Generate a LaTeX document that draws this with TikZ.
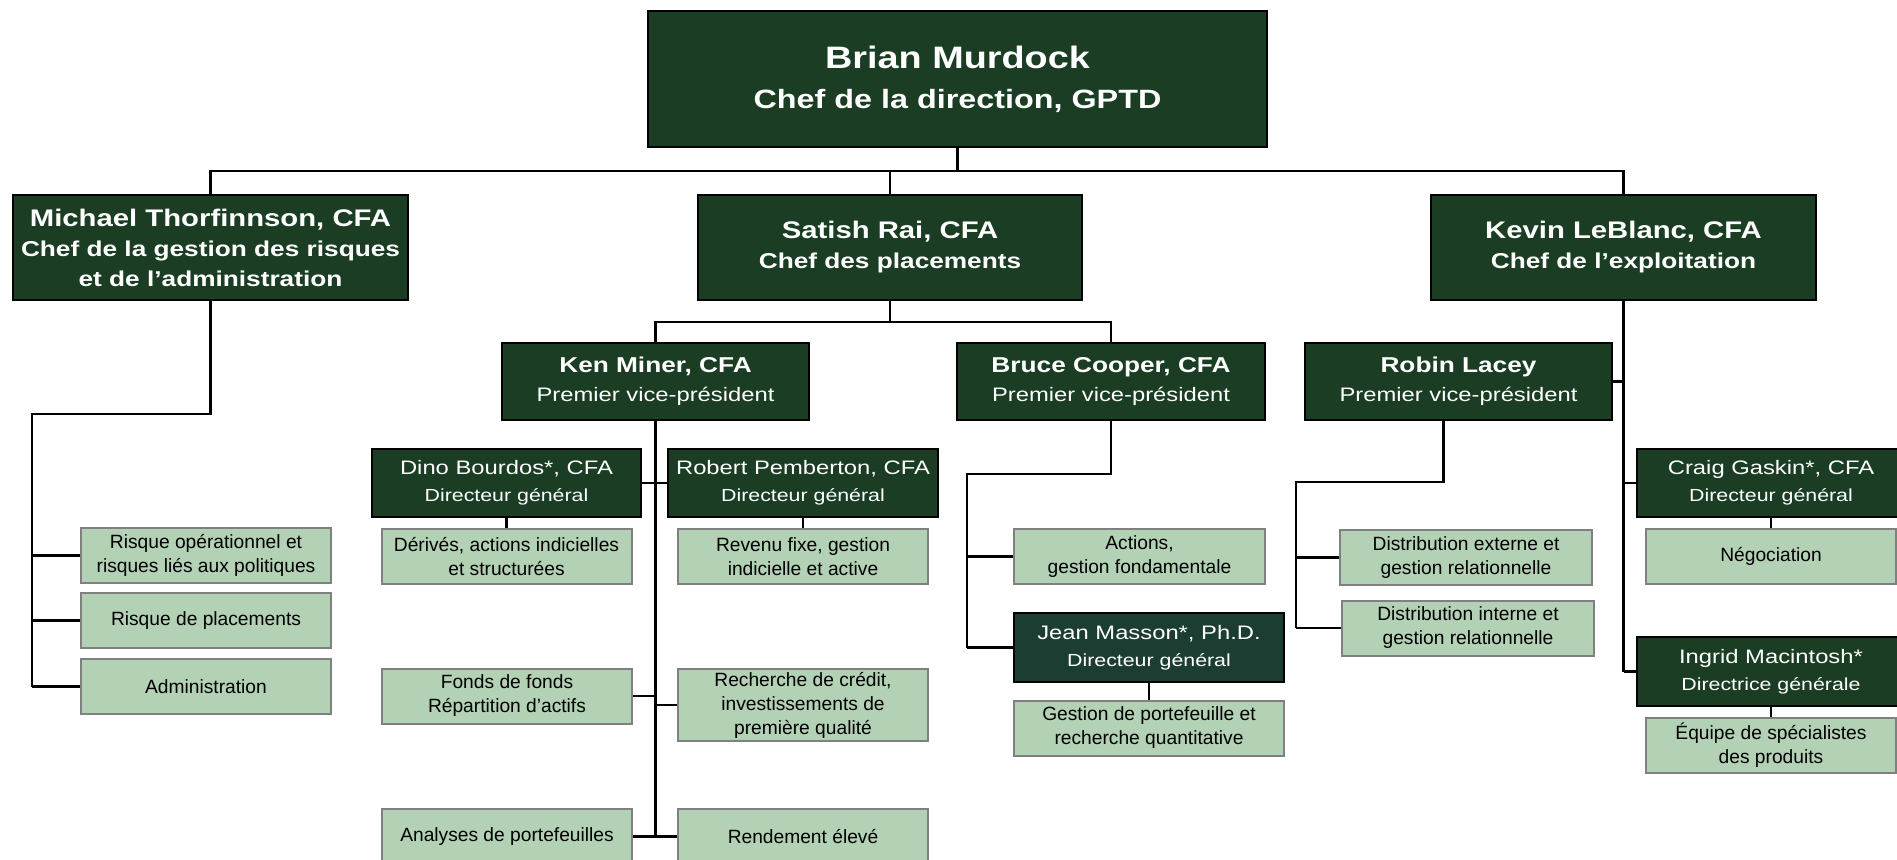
\documentclass[tikz,border=0pt]{standalone}
\usepackage{fontspec}
\setmainfont{Liberation Sans}[FakeStretch=1.22]
\newfontfamily\unitfont{Liberation Sans}
\usepackage{xcolor}
\usetikzlibrary{positioning}

\definecolor{boxgreen}{RGB}{26,61,35}
\definecolor{tealgreen}{RGB}{28,62,50}
\definecolor{unitgreen}{RGB}{179,209,180}
\definecolor{unitgray}{RGB}{128,128,128}

\begin{document}
\begin{tikzpicture}[
    x=1pt, y=-1pt,
    node distance=73.5pt,
    chief/.style={rectangle, draw=black, line width=1.5pt, fill=boxgreen, text=white, align=center, inner sep=0pt, minimum width=619pt, minimum height=136pt, font=\bfseries\fontsize{26.5}{40}\selectfont},
    head/.style={rectangle, draw=black, line width=1.5pt, fill=boxgreen, text=white, align=center, inner sep=0pt, minimum height=105pt, font=\bfseries\fontsize{21.5}{30}\selectfont},
    vp/.style={rectangle, draw=black, line width=1.5pt, fill=boxgreen, text=white, align=center, inner sep=0pt, minimum width=307pt, minimum height=77pt, font=\fontsize{19.5}{29}\selectfont},
    director/.style={rectangle, draw=black, line width=1.5pt, fill=boxgreen, text=white, align=center, inner sep=0pt, minimum width=269pt, minimum height=68pt, font=\fontsize{17.5}{27}\selectfont},
    unit/.style={rectangle, draw=unitgray, line width=2pt, fill=unitgreen, text=black, align=center, inner sep=0pt, minimum width=250pt, minimum height=55pt, font=\unitfont\fontsize{19.2}{24}\selectfont},
    link/.style={line width=2.1pt, black}
]

    \fill [white] (0,0) rectangle (1897,859);
    \useasboundingbox (0,0) rectangle (1897,859);

    % direction
    \node (brian) [chief] at (957.5,79) {{\fontsize{31}{40}\selectfont Brian Murdock}\\Chef de la direction, GPTD};
    \node (michael) [head, minimum width=395pt] at (210.5,247.5) {{\fontsize{24}{30}\selectfont Michael Thorfinnson, CFA}\\Chef de la gestion des risques\\et de l’administration};
    \node (satish) [head, minimum width=384pt] at (890,247.5) {{\fontsize{24}{31}\selectfont Satish Rai, CFA}\\Chef des placements};
    \node (kevin) [head, minimum width=385pt] at (1623.5,247.5) {{\fontsize{24}{31}\selectfont Kevin LeBlanc, CFA}\\Chef de l’exploitation};

    % premiers vice-presidents
    \node (ken) [vp] at (655.5,381.5) {{\bfseries\fontsize{21.5}{29}\selectfont Ken Miner, CFA}\\Premier vice-président};
    \node (bruce) [vp, minimum width=308pt] at (1111,381.5) {{\bfseries\fontsize{21.5}{29}\selectfont Bruce Cooper, CFA}\\Premier vice-président};
    \node (robin) [vp] at (1458.5,381.5) {{\bfseries\fontsize{21.5}{29}\selectfont Robin Lacey}\\Premier vice-président};

    % risques et administration
    \node (risqop) [unit] at (206,555.5) {Risque opérationnel et\\risques liés aux politiques};
    \node (risqpl) [unit, below of=risqop, yshift=8.5pt] {Risque de placements};
    \node (admin) [unit, below of=risqpl, yshift=7.5pt] {Administration};

    % equipe de Ken Miner
    \node (dino) [director] at (506.5,483) {{\fontsize{19.5}{27}\selectfont Dino Bourdos*, CFA}\\Directeur général};
    \node (robert) [director, minimum width=270pt] at (803,483) {{\fontsize{19.5}{27}\selectfont Robert Pemberton, CFA}\\Directeur général};
    \node (derives) [unit, below of=dino] {Dérivés, actions indicielles\\et structurées};
    \node (revenu) [unit, below of=robert] {Revenu fixe, gestion\\indicielle et active};
    \node (fonds) [unit] at (507,696) {Fonds de fonds\\Répartition d’actifs};
    \node (credit) [unit, minimum height=72pt] at (803,705) {Recherche de crédit,\\investissements de\\première qualité};
    \node (analyses) [unit] at (507,836.5) {Analyses de portefeuilles};
    \node (rendement) [unit] at (803,836.5) {Rendement élevé};

    % equipe de Bruce Cooper
    \node (actions) [unit, minimum width=251pt] at (1139.5,556.5) {Actions,\\gestion fondamentale};
    \node (jean) [director, fill=tealgreen, minimum width=270pt, minimum height=69pt] at (1149,647.5) {{\fontsize{19.5}{27}\selectfont Jean Masson*, Ph.D.}\\Directeur général};
    \node (gestport) [unit, minimum width=270pt, below of=jean, yshift=-7pt] {Gestion de portefeuille et\\recherche quantitative};

    % equipe de Robin Lacey
    \node (distext) [unit, minimum width=252pt] at (1466,557.5) {Distribution externe et\\gestion relationnelle};
    \node (distint) [unit, minimum width=252pt] at (1468,628) {Distribution interne et\\gestion relationnelle};

    % equipe de Kevin LeBlanc
    \node (craig) [director, minimum width=268pt] at (1771,483) {{\fontsize{19.5}{27}\selectfont Craig Gaskin*, CFA}\\Directeur général};
    \node (nego) [unit, below of=craig] {Négociation};
    \node (ingrid) [director, minimum width=268pt, minimum height=69pt] at (1771,671.5) {{\fontsize{19.5}{27}\selectfont Ingrid Macintosh*}\\Directrice générale};
    \node (equipe) [unit, below of=ingrid] {Équipe de spécialistes\\des produits};

    % liens de la direction
    \coordinate (bus) at (957.5,171);
    \draw [link] (brian.south) -- (bus);
    \draw [link] (michael.north) |- (bus) -| (kevin.north);
    \draw [link] (satish.north) -- (satish.north |- bus);

    \coordinate (sbar) at (890,322);
    \draw [link] (satish.south) -- (sbar);
    \draw [link] (ken.north) |- (sbar) -| (bruce.north);

    % liens Michael
    \coordinate (mleft) at (32,414);
    \draw [link] (michael.south) |- (mleft) -- (mleft |- admin);
    \draw [link] (risqop.west) -- (risqop.west -| mleft);
    \draw [link] (risqpl.west) -- (risqpl.west -| mleft);
    \draw [link] (admin.west) -- (admin.west -| mleft);

    % liens Ken
    \draw [link] (ken.south) -- (ken.south |- analyses);
    \draw [link] (dino.east) -- (robert.west);
    \draw [link] (dino) -- (derives);
    \draw [link] (robert) -- (revenu);
    \draw [link] (fonds.east) -- (fonds.east -| ken);
    \draw [link] (credit.west) -- (credit.west -| ken);
    \draw [link] (analyses.east) -- (rendement.west);

    % liens Bruce
    \coordinate (bleft) at (967,474);
    \draw [link] (bruce.south) |- (bleft) -- (bleft |- jean);
    \draw [link] (actions.west) -- (actions.west -| bleft);
    \draw [link] (jean.west) -- (jean.west -| bleft);
    \draw [link] (jean) -- (gestport);

    % liens Robin
    \coordinate (rdrop) at ([xshift=-15pt]robin.south);
    \coordinate (rleft) at (1296,482);
    \draw [link] (rdrop) |- (rleft) -- (rleft |- distint);
    \draw [link] (distext.west) -- (distext.west -| rleft);
    \draw [link] (distint.west) -- (distint.west -| rleft);

    % liens Kevin
    \draw [link] (kevin.south) -- (kevin.south |- ingrid);
    \draw [link] (robin.east) -- (robin.east -| kevin);
    \draw [link] (craig.west) -- (craig.west -| kevin);
    \draw [link] (ingrid.west) -- (ingrid.west -| kevin);
    \draw [link] (craig) -- (nego);
    \draw [link] (ingrid) -- (equipe);

\end{tikzpicture}
\end{document}
